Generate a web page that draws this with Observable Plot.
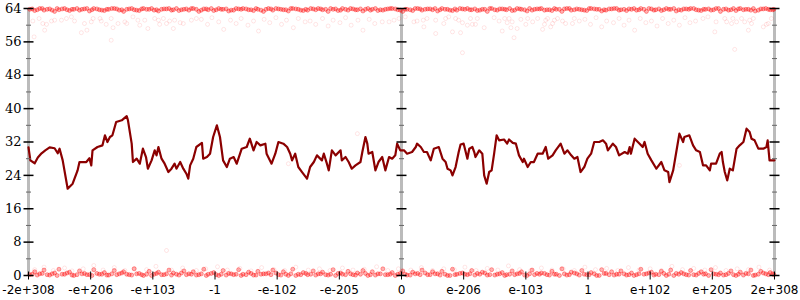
<!DOCTYPE html>
<html><head><meta charset="utf-8">
<script src="https://cdn.jsdelivr.net/npm/d3@7"></script>
<script src="https://cdn.jsdelivr.net/npm/@observablehq/plot@0.6"></script>
<style>html,body{margin:0;padding:0;background:#fff;} #chart svg{display:block;}</style>
</head><body><div id="chart"></div>
<script>
const xTickValues = [-6,-5,-4,-3,-2,-1,0,1,2,3,4,5,6];
const xTickLabels = ["-2e+308","-e+206","-e+103","-1","-e-102","-e-205","0","e-206","e-103","1","e+102","e+205","2e+308"];
const yMajorTicks = [0,8,16,24,32,40,48,56,64];
const yMinorTicks = [4,12,20,28,36,44,52,60];
const axisPositions = [-6,0,6];

const lineX = [-6.00,-5.97,-5.90,-5.85,-5.79,-5.73,-5.66,-5.58,-5.53,-5.50,
-5.45,-5.37,-5.29,-5.21,-5.18,-5.07,-5.02,-4.99,-4.97,-4.89,-4.81,-4.77,-4.73,-4.69,-4.65,-4.59,-4.50,-4.42,-4.40,-4.34,-4.32,-4.26,-4.21,-4.16,-4.11,-4.08,-4.02,-3.97,-3.94,-3.91,-3.86,-3.81,-3.75,-3.70,-3.65,-3.62,-3.56,-3.51,-3.46,-3.43,-3.40,-3.35,-3.30,-3.21,-3.19,-3.13,-3.08,-3.03,-2.97,-2.92,-2.87,-2.81,-2.76,-2.70,-2.65,-2.57,-2.49,-2.44,-2.38,-2.33,-2.27,
-2.19,-2.17,-2.09,-2.03,-1.98,-1.90,-1.84,-1.79,-1.76,-1.71,-1.66,-1.60,-1.52,-1.47,-1.41,-1.36,-1.28,-1.25,-1.20,-1.17,-1.12,-1.06,-0.98,-0.96,-0.90,-0.85,-0.80,-0.74,-0.66,-0.63,-0.58,-0.55,-0.53,-0.47,-0.42,-0.37,-0.31,-0.26,-0.20,-0.15,-0.10,-0.07,-0.02,0.04,0.09,0.17,0.23,0.25,0.31,0.36,0.41,0.47,0.52,0.60,0.66,0.71,0.74,0.79,0.82,0.87,0.92,0.95,
1.00,1.06,1.09,1.14,1.17,1.19,1.25,1.30,1.33,1.37,1.41,1.45,1.49,1.53,1.57,1.65,1.70,1.73,1.79,1.84,1.89,1.95,1.97,2.03,2.08,2.13,2.19,2.27,2.32,2.36,2.43,2.48,2.56,2.62,2.67,2.73,2.78,2.83,2.88,2.94,2.99,3.05,3.10,3.18,3.24,3.29,3.32,3.40,3.45,3.50,3.59,3.64,3.67,3.69,3.75,3.83,3.88,3.91,
3.96,4.02,4.10,4.18,4.23,4.29,4.31,4.37,4.42,4.47,4.53,4.55,4.63,4.69,4.74,4.80,4.85,4.90,4.96,4.98,5.06,5.12,5.15,5.17,5.20,5.24,5.28,5.33,5.39,5.44,5.50,5.55,5.60,5.63,5.68,5.74,5.82,5.87,5.89,5.92,6.00];
const lineY = [30.7,27.6,26.9,28.3,29.3,30.0,30.7,30.5,29.3,30.4,
27.6,20.8,22.0,25.2,27.2,27.2,28.1,26.4,30.0,30.8,31.2,33.6,32.0,33.2,33.6,36.8,37.2,38.2,37.2,31.6,27.2,28.0,26.8,30.4,28.4,25.6,27.6,30.0,28.8,30.8,28.0,26.8,24.8,25.6,26.8,25.6,27.2,25.6,24.4,23.2,26.4,28.0,30.8,31.8,28.0,28.4,29.2,33.2,36.0,33.2,27.6,26.0,28.0,28.4,26.8,30.4,30.8,32.8,30.0,32.0,31.2,
31.6,29.2,26.8,29.2,32.0,31.6,30.8,29.2,27.6,29.2,26.0,24.8,23.2,26.0,27.2,28.8,27.6,29.2,26.8,25.2,30.0,28.8,30.0,27.6,28.4,27.2,25.6,26.4,27.2,29.6,33.2,31.6,29.2,29.6,25.2,27.2,28.4,25.2,28.4,28.0,28.8,31.6,30.0,30.0,29.2,29.6,30.8,31.6,30.8,29.6,29.6,27.6,30.4,30.8,28.0,27.2,25.6,25.2,24.0,26.0,29.6,31.4,
31.6,28.0,30.4,30.8,29.6,28.4,30.0,29.2,24.0,22.0,24.8,25.2,29.2,33.6,32.4,32.6,31.6,32.6,31.8,31.6,28.8,27.2,28.0,26.0,27.2,27.2,29.2,29.2,30.8,28.0,28.8,30.0,31.6,29.2,30.0,28.8,28.0,28.4,24.8,26.0,28.0,29.2,32.0,32.0,32.4,31.6,30.0,31.6,30.8,28.8,29.6,29.2,30.8,29.2,32.8,31.6,30.8,32.0,
29.2,27.6,25.6,27.2,25.2,24.8,22.4,25.2,29.6,34.0,32.0,33.2,33.6,31.2,30.0,29.6,26.4,26.4,25.2,26.8,26.8,29.2,29.6,27.2,24.8,22.8,25.6,25.2,30.4,31.2,32.0,35.2,34.4,32.8,32.4,30.4,30.4,30.8,32.4,27.6,27.6];

const bandX = [-5.98,-5.90,-5.82,-5.75,-5.66,-5.58,-5.51,-5.42,-5.34,-5.27,
-5.18,-5.10,-5.02,-4.95,-4.86,-4.78,-4.71,-4.62,-4.54,-4.47,
-4.38,-4.30,-4.22,-4.15,-4.06,-3.98,-3.91,-3.82,-3.74,-3.67,
-3.58,-3.50,-3.42,-3.35,-3.26,-3.18,-3.11,-3.02,-2.94,-2.87,
-2.78,-2.70,-2.62,-2.55,-2.46,-2.38,-2.31,-2.22,-2.14,-2.07,
-1.98,-1.90,-1.82,-1.75,-1.66,-1.58,-1.51,-1.42,-1.34,-1.27,
-1.18,-1.10,-1.02,-0.95,-0.86,-0.78,-0.71,-0.62,-0.54,-0.47,
-0.38,-0.30,-0.22,-0.15,-0.06,0.02,0.09,0.18,0.26,0.33,
0.42,0.50,0.58,0.65,0.74,0.82,0.89,0.98,1.06,1.13,
1.22,1.30,1.38,1.45,1.54,1.62,1.69,1.78,1.86,1.93,
2.02,2.10,2.18,2.25,2.34,2.42,2.49,2.58,2.66,2.73,
2.82,2.90,2.98,3.05,3.14,3.22,3.29,3.38,3.46,3.53,
3.62,3.70,3.78,3.85,3.94,4.02,4.09,4.18,4.26,4.33,
4.42,4.50,4.58,4.65,4.74,4.82,4.89,4.98,5.06,5.13,
5.22,5.30,5.38,5.45,5.54,5.62,5.69,5.78,5.86,5.93,
5.99];
const topBandY = [63.8,63.5,64.0,63.6,63.9,63.3,63.7,64.0,63.5,63.8,
63.6,63.9,63.4,64.0,63.7,63.5,63.8,64.0,63.6,63.3,
63.9,63.7,63.5,64.0,63.8,63.6,63.4,63.9,64.0,63.7,
63.5,63.8,63.6,64.0,63.3,63.9,63.7,63.5,64.0,63.8,
63.4,63.6,63.9,64.0,63.7,63.5,63.8,63.3,64.0,63.6,
63.9,63.7,63.4,64.0,63.8,63.5,63.6,63.9,64.0,63.7,
63.3,63.8,63.5,64.0,63.6,63.9,63.7,63.4,64.0,63.8,
63.5,63.6,63.9,64.0,63.7,63.3,63.8,63.5,64.0,63.6,
63.9,63.7,63.4,64.0,63.8,63.5,63.6,63.9,64.0,63.7,
63.5,63.8,63.3,64.0,63.6,63.9,63.7,63.5,64.0,63.8,
63.4,63.6,63.9,64.0,63.7,63.5,63.8,63.3,64.0,63.6,
63.9,63.7,63.5,64.0,63.8,63.4,63.6,63.9,64.0,63.7,
63.5,63.8,63.6,64.0,63.3,63.9,63.7,63.5,64.0,63.8,
63.4,63.6,63.9,64.0,63.7,63.5,63.8,63.6,64.0,63.3,
63.9,63.7,63.5,64.0,63.8,63.6,63.4,63.9,64.0,63.7,
63.8];
const bottomBandY = [0.2,0.9,0.4,1.3,0.1,0.6,1.5,0.3,0.8,0.0,
1.1,0.5,0.2,1.4,0.3,0.7,0.1,1.2,0.4,0.9,
0.2,1.6,0.5,0.0,1.0,0.3,0.8,0.2,1.3,0.6,
0.1,1.1,0.4,0.9,0.2,1.5,0.3,0.7,0.0,1.2,
0.5,0.2,1.4,0.3,0.8,0.1,1.0,0.4,0.6,1.3,
0.2,0.9,0.0,1.5,0.3,0.7,0.2,1.1,0.4,0.8,
0.1,1.4,0.5,0.3,1.0,0.2,0.6,1.2,0.0,0.9,
0.4,1.6,0.2,0.7,0.3,1.1,0.1,0.8,0.5,1.3,
0.2,0.9,0.4,1.0,0.0,1.5,0.3,0.6,0.2,1.2,
0.5,0.8,0.1,1.4,0.3,0.7,0.2,1.1,0.4,0.9,
0.0,1.3,0.5,0.6,0.2,1.0,0.3,1.6,0.1,0.8,
0.4,1.2,0.2,0.7,0.0,1.4,0.5,0.9,0.3,1.1,
0.1,0.6,0.2,1.5,0.4,0.8,0.3,1.0,0.0,1.3,
0.5,0.7,0.2,1.2,0.1,0.9,0.4,1.4,0.3,0.6,
0.2,1.1,0.0,0.8,0.5,1.3,0.1,1.0,0.4,0.7,
0.2];

const bandX2 = [-5.94,-5.86,-5.78,-5.70,-5.62,-5.54,-5.46,-5.38,-5.30,-5.22,
-5.14,-5.06,-4.98,-4.90,-4.82,-4.74,-4.66,-4.58,-4.50,-4.42,
-4.34,-4.26,-4.18,-4.10,-4.02,-3.94,-3.86,-3.78,-3.70,-3.62,
-3.54,-3.46,-3.38,-3.30,-3.22,-3.14,-3.06,-2.98,-2.90,-2.82,
-2.74,-2.66,-2.58,-2.50,-2.42,-2.34,-2.26,-2.18,-2.10,-2.02,
-1.94,-1.86,-1.78,-1.70,-1.62,-1.54,-1.46,-1.38,-1.30,-1.22,
-1.14,-1.06,-0.98,-0.90,-0.82,-0.74,-0.66,-0.58,-0.50,-0.42,
-0.34,-0.26,-0.18,-0.10,-0.02,0.06,0.14,0.22,0.30,0.38,
0.46,0.54,0.62,0.70,0.78,0.86,0.94,1.02,1.10,1.18,
1.26,1.34,1.42,1.50,1.58,1.66,1.74,1.82,1.90,1.98,
2.06,2.14,2.22,2.30,2.38,2.46,2.54,2.62,2.70,2.78,
2.86,2.94,3.02,3.10,3.18,3.26,3.34,3.42,3.50,3.58,
3.66,3.74,3.82,3.90,3.98,4.06,4.14,4.22,4.30,4.38,
4.46,4.54,4.62,4.70,4.78,4.86,4.94,5.02,5.10,5.18,
5.26,5.34,5.42,5.50,5.58,5.66,5.74,5.82,5.90,5.97];
const topBandY2 = [63.9,63.7,64.0,63.8,63.6,64.0,63.9,63.7,63.8,64.0,
63.8,64.0,63.7,63.9,63.6,63.8,64.0,63.9,63.7,63.8,
64.0,63.6,63.9,63.8,64.0,63.7,63.8,63.9,63.6,64.0,
63.7,63.9,64.0,63.8,63.6,63.9,64.0,63.7,63.8,63.9,
63.6,64.0,63.8,63.9,63.7,64.0,63.6,63.8,63.9,64.0,
63.8,63.7,64.0,63.9,63.6,63.8,64.0,63.7,63.9,63.8,
64.0,63.9,63.6,63.8,64.0,63.7,63.9,63.8,63.6,64.0,
63.7,63.8,64.0,63.9,63.6,63.8,63.7,64.0,63.9,63.8,
63.9,64.0,63.7,63.8,63.6,63.9,64.0,63.8,63.7,63.9,
63.6,63.8,64.0,63.7,63.9,63.8,64.0,63.6,63.9,63.7,
64.0,63.8,63.9,63.6,63.7,64.0,63.8,63.9,64.0,63.7,
63.8,63.6,64.0,63.9,63.8,63.7,63.9,64.0,63.6,63.8,
63.9,64.0,63.7,63.8,64.0,63.6,63.9,63.7,63.8,64.0,
63.7,63.9,63.8,64.0,63.6,63.8,63.9,63.7,64.0,63.8,
63.6,64.0,63.9,63.7,63.8,64.0,63.6,63.9,63.8,63.7];
const bottomBandY2 = [0.3,0.1,0.5,0.2,0.4,0.0,0.3,0.6,0.1,0.2,
0.4,0.2,0.0,0.5,0.3,0.1,0.4,0.2,0.6,0.3,
0.1,0.4,0.2,0.3,0.0,0.5,0.2,0.4,0.1,0.3,
0.6,0.2,0.3,0.1,0.4,0.0,0.5,0.2,0.3,0.1,
0.4,0.3,0.0,0.2,0.5,0.1,0.3,0.4,0.2,0.6,
0.1,0.3,0.4,0.0,0.2,0.5,0.3,0.1,0.4,0.2,
0.3,0.0,0.6,0.2,0.4,0.1,0.3,0.5,0.2,0.1,
0.4,0.2,0.3,0.0,0.5,0.3,0.1,0.4,0.2,0.6,
0.2,0.4,0.1,0.3,0.0,0.2,0.5,0.3,0.4,0.1,
0.3,0.6,0.2,0.1,0.4,0.0,0.3,0.2,0.5,0.1,
0.4,0.2,0.3,0.5,0.1,0.3,0.0,0.4,0.2,0.6,
0.1,0.3,0.2,0.4,0.0,0.5,0.2,0.1,0.3,0.4,
0.2,0.0,0.4,0.3,0.6,0.1,0.2,0.5,0.3,0.0,
0.3,0.4,0.1,0.2,0.5,0.3,0.0,0.4,0.2,0.1,
0.5,0.2,0.3,0.1,0.4,0.0,0.3,0.6,0.2,0.4];

const topScatterX = [-5.93,-5.91,-5.83,-5.77,-5.74,-5.71,-5.63,-5.58,-5.47,-5.39,-5.31,-5.26,-5.15,-5.10,-5.06,-4.99,-4.96,-4.85,-4.83,-4.75,-4.67,-4.64,-4.67,-4.56,-4.45,-4.42,-4.32,-4.24,-4.21,-4.13,-4.08,-3.97,-3.91,-3.89,-3.83,-3.78,-3.73,-3.67,-3.65,-3.56,-3.51,-3.38,-3.30,
-3.22,-3.12,-3.05,-2.94,-2.86,-2.75,-2.66,-2.58,-2.47,-2.38,-2.30,-2.21,-2.12,-2.02,-1.93,-1.85,-1.74,-1.66,-1.55,-1.47,-1.38,-1.27,-1.18,-1.10,-0.99,-0.90,-0.81,-0.70,-0.62,-0.52,-0.43,
-0.31,-0.20,-0.12,-0.04,0.06,0.20,0.25,0.35,0.36,0.41,0.55,0.55,0.68,0.71,0.76,0.82,0.87,0.92,0.95,0.98,0.98,1.06,1.11,1.14,1.19,1.22,1.33,1.49,1.57,1.62,1.66,1.70,1.73,1.76,1.78,1.81,1.86,1.92,2.00,2.03,2.11,2.19,2.27,2.30,2.32,2.35,2.40,2.43,2.46,2.51,2.59,2.64,2.75,2.78,2.86,
2.95,3.04,3.13,3.22,3.30,3.41,3.50,3.58,3.66,3.75,3.84,3.93,4.02,4.11,4.20,4.29,4.38,4.47,4.56,4.64,4.73,
4.85,4.93,5.04,5.06,5.20,5.23,5.31,5.33,5.36,5.39,5.47,5.52,5.58,5.60,5.63,5.66,5.82,5.87,5.90,5.95];
const topScatterY = [61.0,57.2,61.6,60.4,58.8,60.2,61.0,61.2,61.2,61.6,62.0,61.0,58.2,60.4,58.8,60.8,61.6,61.6,61.0,60.2,56.4,59.4,61.6,60.4,60.8,60.4,62.0,61.2,60.0,61.2,59.2,61.6,61.2,60.2,61.6,60.4,61.0,59.2,61.2,60.6,60.4,61.2,61.6,
61.4,60.2,61.8,60.8,59.0,61.2,60.4,61.6,60.0,61.0,58.6,61.4,60.6,61.8,60.2,61.2,59.4,61.6,60.8,61.0,60.2,61.6,59.8,61.2,60.6,61.8,60.0,61.2,58.8,61.4,60.4,
60.8,60.8,61.2,61.6,62.0,60.8,61.0,61.2,59.6,61.6,61.2,58.0,60.4,61.6,62.0,58.4,61.6,61.2,58.2,60.6,53.4,60.0,61.6,60.2,60.2,61.6,59.4,61.8,61.0,58.6,61.6,60.6,61.6,59.4,60.8,57.0,59.2,61.4,60.2,61.6,60.8,61.6,59.0,60.2,61.2,61.6,59.6,60.4,61.2,61.6,61.0,60.4,60.4,61.6,61.0,
61.4,60.2,61.8,59.6,61.0,60.6,61.6,60.0,61.2,58.8,61.6,60.6,61.0,59.8,61.6,60.4,61.2,60.0,61.8,60.6,61.0,
61.6,62.0,58.4,60.8,61.6,60.8,60.4,61.6,54.2,60.8,61.6,60.8,58.8,61.2,60.4,61.6,59.6,60.2,60.4,61.6];

const bottomScatterX = [-5.90,-5.75,-5.60,-5.42,-5.30,-5.12,-4.95,-4.80,-4.62,-4.45,-4.30,-4.10,-3.95,-3.78,-3.70,-3.52,-3.30,-3.15,-2.96,-2.80,-2.60,-2.42,-2.25,-2.05,-1.88,-1.70,-1.50,-1.32,-1.15,-0.95,-0.78,-0.60,-0.40,-0.22,-0.05,0.15,0.32,0.50,0.68,0.85,1.02,1.20,1.38,1.55,1.72,1.90,2.08,2.25,2.42,2.60,2.78,2.95,3.12,3.30,3.48,3.65,3.82,4.00,4.18,4.35,4.52,4.70,4.88,5.05,5.22,5.40,5.58,5.75,5.92];
const bottomScatterY = [1.4,2.0,1.2,1.8,1.1,1.6,2.4,1.3,1.9,1.2,1.7,1.4,2.2,6.0,1.3,1.8,1.2,1.6,2.1,1.3,1.7,1.1,1.9,1.4,1.2,2.0,1.3,1.6,1.2,1.8,1.3,1.5,2.1,1.2,1.6,1.3,1.9,1.2,1.6,1.4,2.0,1.2,1.7,1.3,2.3,1.4,1.2,1.8,1.3,1.6,1.2,2.0,1.4,1.7,1.2,1.9,1.3,1.6,1.2,2.2,1.4,1.7,1.3,1.9,1.2,1.6,1.4,2.0,1.3];

const strayX = [-0.71,-1.82,4.47];
const strayY = [34.0,26.8,26.4];

const pairs = (xs, ys) => xs.slice(0, Math.min(xs.length, ys.length)).map((x, i) => ({x, y: ys[i]}));
const lineData = pairs(lineX, lineY);
const bands = pairs(bandX, topBandY).concat(pairs(bandX, bottomBandY), pairs(bandX2, topBandY2), pairs(bandX2, bottomBandY2));
const scatter = pairs(topScatterX, topScatterY).concat(pairs(bottomScatterX, bottomScatterY), pairs(strayX, strayY));
const majorTicks = axisPositions.flatMap(x => yMajorTicks.map(y => ({x, y})));
const minorTicks = axisPositions.flatMap(x => yMinorTicks.map(y => ({x, y})));

const hline = {draw(ctx, size) { const r = Math.sqrt(size / Math.PI); ctx.moveTo(-r, 0); ctx.lineTo(r, 0); }};
const vline = {draw(ctx, size) { const r = Math.sqrt(size / Math.PI); ctx.moveTo(0, -r); ctx.lineTo(0, r); }};

const chart = Plot.plot({
  width: 800, height: 300,
  marginTop: 8, marginBottom: 25, marginLeft: 28, marginRight: 26,
  x: {domain: [-6, 6], axis: null},
  y: {domain: [0, 64], axis: null},
  marks: [
    Plot.ruleX(axisPositions, {x: d => d, y1: 0, y2: 64, stroke: "#bbb", strokeWidth: 3}),
    Plot.dot(scatter, {x: "x", y: "y", r: 2, fill: "none", stroke: "red", strokeOpacity: 0.1, strokeWidth: 1}),
    Plot.dot(bands, {x: "x", y: "y", r: 2, fill: "red", fillOpacity: 0.3, stroke: "red", strokeOpacity: 0.35, strokeWidth: 1}),
    Plot.line(lineData, {x: "x", y: "y", stroke: "#8b0000", strokeWidth: 2.2}),
    Plot.dot(minorTicks, {x: "x", y: "y", symbol: hline, r: 2.5, fill: "none", stroke: "#666", strokeWidth: 1}),
    Plot.dot(majorTicks, {x: "x", y: "y", symbol: hline, r: 5, fill: "none", stroke: "black", strokeWidth: 1.5}),
    Plot.dot(xTickValues, {x: d => d, y: () => 0, symbol: vline, r: 4, fill: "none", stroke: "black", strokeWidth: 1}),
    Plot.text(yMajorTicks, {x: () => -6, y: d => d, text: d => String(d), textAnchor: "end", dx: -7, fontSize: 13, fontFamily: "DejaVu Serif", fill: "black"}),
    Plot.text(xTickValues, {x: d => d, y: () => 0, text: (d, i) => xTickLabels[i], dy: 15, fontSize: 12, fontFamily: "DejaVu Sans", fill: "black"})
  ]
});
document.getElementById("chart").appendChild(chart);
</script>
</body></html>
